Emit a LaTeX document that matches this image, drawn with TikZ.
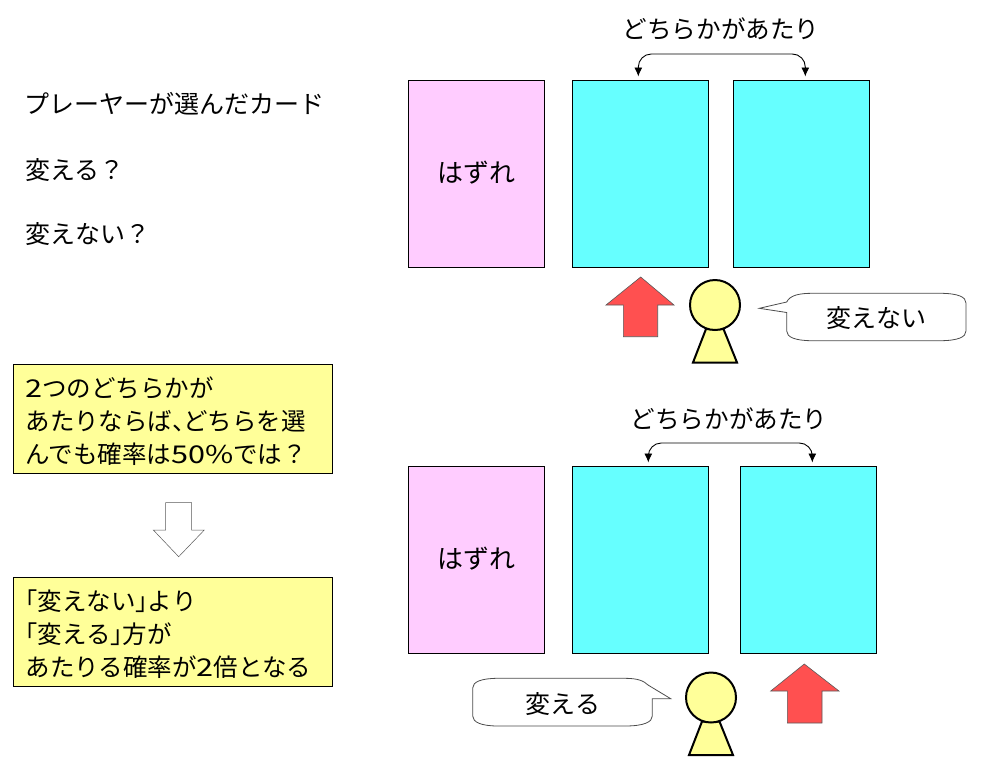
\documentclass[tikz,border=0pt]{standalone}
\usepackage{fontspec}
\usetikzlibrary{arrows.meta}
\setmainfont{Noto Sans CJK JP}
\newfontface\widefont[FakeStretch=1.25]{Noto Sans CJK JP}
\definecolor{kcyan}{HTML}{66FFFF}
\definecolor{kpink}{HTML}{FFCCFF}
\definecolor{kyellow}{HTML}{FFFF99}
\definecolor{kred}{HTML}{FF5050}
\tikzset{
  jptext/.style={inner sep=0pt,font=\fontsize{25}{33}\selectfont},
  hint/.style={inner sep=0pt,font=\fontsize{24.6}{33}\selectfont},
  card/.style={draw,line width=1pt,minimum width=136pt,minimum height=187pt,inner sep=0pt,text depth=4pt,font=\fontsize{26}{33}\selectfont},
  notebox/.style={draw,line width=1pt,fill=kyellow,minimum width=319.5pt,minimum height=109pt,inner sep=0pt,text width=295pt,align=left,font=\fontsize{24.5}{33}\selectfont,execute at begin node=\rule{0pt}{26pt}},
  redarrow/.style={draw=black!65,line width=0.6pt,fill=kred},
  person/.style={draw,line width=2pt,fill=kyellow},
  bubble/.style={draw=black!70,line width=0.8pt,fill=white},
  pick/.style={{Latex[length=9pt,width=8pt]}-{Latex[length=9pt,width=8pt]},line width=0.9pt,rounded corners=13pt}
}
\begin{document}
\begin{tikzpicture}[x=1pt,y=-1pt]
\useasboundingbox (0,0) rectangle (986,764);
% left column
\foreach \n/\x/\y/\a in {qa/24/104/プレーヤーが選んだカード,qb/25/170/変える？,qc/25/234/変えない？}{\node[jptext,anchor=west] (\n) at (\x,\y) {\a};}
\node[notebox] (notea) at (173,418.8) {{\widefont 2}つのどちらかが\\あたりならば、\kern-14pt どちらを選\\んでも確率は{\widefont 50\%}では？};
\node[notebox] (noteb) at (173,631.6) {｢変えない｣より\\｢変える｣方が\\あたりる確率が{\widefont 2}倍となる};
\draw[line width=0.5pt,draw=black!65,fill=white] (165.7,502.7)--(191.7,502.7)--(191.7,530)--(204.3,530)--(178.7,556.7)--(153.3,530)--(165.7,530)--cycle;
% cards
\foreach \n/\x/\y/\c/\a in {ca/476.5/173.5/kpink/はずれ,cb/640.3/173.5/kcyan/,cc/801.3/173.5/kcyan/,da/476.5/559.5/kpink/はずれ,db/640.3/559.5/kcyan/,dc/808.3/559.5/kcyan/}{\node[card,fill=\c] (\n) at (\x,\y) {\a};}
% hints
\node[hint] (hinta) at (721,29) {どちらかがあたり};
\node[hint] (hintb) at (729,419) {どちらかがあたり};
\coordinate (topa) at (0,54);
\coordinate (topb) at (0,443);
\coordinate (aa) at ([shift={(-2,-3)}]cb.north);
\coordinate (ab) at ([shift={(4,-3)}]cc.north);
\coordinate (ba) at ([shift={(8,-3)}]db.north);
\coordinate (bb) at ([shift={(4,-3)}]dc.north);
\draw[pick] (aa)--(aa|-topa)--(ab|-topa)--(ab);
\draw[pick] (ba)--(ba|-topb)--(bb|-topb)--(bb);
% red arrows
\draw[redarrow] (640.7,277)--(674,305)--(657.7,305)--(657.7,336.7)--(623.3,336.7)--(623.3,305)--(606,305)--cycle;
\draw[redarrow] (804.3,664)--(839,691)--(822,691)--(822,723)--(787.3,723)--(787.3,691)--(770.7,691)--cycle;
% persons
\foreach \n/\x/\y in {pa/715/305,pb/711/697.5}{
  \draw[person,line join=miter] (\x-9,\y+24)--(\x+8.5,\y+24)--(\x+22,\y+57.5)--(\x-22,\y+57.5)--cycle;
  \node[person,circle,minimum size=50pt,inner sep=0pt] (\n) at (\x,\y) {};
}
% bubbles
\draw[bubble] (759.3,308.3)--(786.7,302)..controls (790,295) and (800,293.3)..(812,293.3)--(940,293.3)..controls (958,293.3) and (966,297)..(966,303)--(966,331)..controls (966,337) and (958,340.7)..(940,340.7)--(812,340.7)..controls (795,340.7) and (786.7,337)..(786.7,331)--(786.7,312.5)--cycle;
\node[jptext] (saya) at (876,318) {変えない};
\draw[bubble] (670.7,698.7)--(652.3,698.7)--(652.3,716)..controls (652.3,722) and (644,726)..(625,726)--(498,726)..controls (481,726) and (472.7,722)..(472.7,716)--(472.7,688)..controls (472.7,682) and (481,678.3)..(498,678.3)--(625,678.3)..controls (638,678.3) and (644,681)..(648,685)--cycle;
\node[jptext] (sayb) at (563,704) {変える};
\end{tikzpicture}
\end{document}
